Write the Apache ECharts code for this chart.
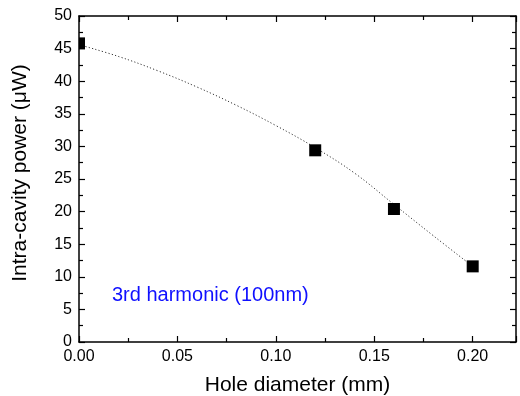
<!DOCTYPE html>
<html><head><meta charset="utf-8">
<script src="https://cdn.jsdelivr.net/npm/echarts@6/dist/echarts.min.js"></script>
<style>html,body{margin:0;padding:0;background:#fff}#c{width:520px;height:396px}</style>
</head><body><div id="c"></div>
<script>
// measured points
const holeDiameter = [0.00, 0.12, 0.16, 0.20];
const power = [45.8, 29.4, 20.4, 11.6];
// dotted fit curve
const curveX = [0.00, 0.02, 0.04, 0.06, 0.08, 0.10, 0.12, 0.14, 0.16, 0.18, 0.20];
const curveY = [45.6, 43.8, 41.6, 39.1, 36.3, 33.2, 29.8, 25.9, 21.1, 16.3, 11.6];
const xTicks = ['0.00', '0.05', '0.10', '0.15', '0.20'];
const annotation = '3rd harmonic (100nm)';
const xTitle = 'Hole diameter (mm)';
const yTitle = 'Intra-cavity power (\u03bcW)';

const FONT = 'Liberation Sans, Arial, sans-serif';
const chart = echarts.init(document.getElementById('c'), null, {renderer: 'canvas'});
const axisLine = {show: true, onZero: false, lineStyle: {color: '#000', width: 1.5}};
const tickStyle = {color: '#000', width: 1.2};
chart.setOption({
  animation: false,
  grid: {left: 79, right: 4, top: 16, bottom: 54, containLabel: false, outerBoundsMode: 'none'},
  xAxis: [{
    type: 'value', min: 0, max: 0.222, interval: 0.05, position: 'bottom',
    axisLine: axisLine,
    axisTick: {show: true, inside: true, length: 6, lineStyle: tickStyle},
    minorTick: {show: true, splitNumber: 2, length: 4, lineStyle: tickStyle},
    splitLine: {show: false},
    axisLabel: {color: '#000', fontSize: 16, fontFamily: FONT, margin: 7, showMaxLabel: false,
      formatter: v => { const i = Math.round(v / 0.05); return xTicks[i] !== undefined ? xTicks[i] : ''; }},
    name: xTitle, nameLocation: 'middle', nameGap: 33,
    nameTextStyle: {color: '#000', fontSize: 21, fontFamily: FONT}
  }, {
    type: 'value', min: 0, max: 0.222, interval: 0.05, position: 'top',
    axisLine: axisLine,
    axisTick: {show: true, inside: true, length: 6, lineStyle: tickStyle},
    minorTick: {show: true, splitNumber: 2, length: 4, lineStyle: tickStyle},
    splitLine: {show: false}, axisLabel: {show: false}
  }],
  yAxis: [{
    type: 'value', min: 0, max: 50, interval: 5, position: 'left',
    axisLine: axisLine,
    axisTick: {show: true, inside: true, length: 6, lineStyle: tickStyle},
    minorTick: {show: true, splitNumber: 2, length: 4, lineStyle: tickStyle},
    splitLine: {show: false},
    axisLabel: {color: '#000', fontSize: 16, fontFamily: FONT, margin: 7},
    name: yTitle, nameLocation: 'middle', nameGap: 48, nameRotate: 90,
    nameTextStyle: {color: '#000', fontSize: 21, fontFamily: FONT, padding: [0, 0, 0, 12]}
  }, {
    type: 'value', min: 0, max: 50, interval: 5, position: 'right',
    axisLine: axisLine,
    axisTick: {show: true, inside: true, length: 6, lineStyle: tickStyle},
    minorTick: {show: true, splitNumber: 2, length: 4, lineStyle: tickStyle},
    splitLine: {show: false}, axisLabel: {show: false}
  }],
  graphic: [{
    type: 'text', left: 112, top: 285, z: 10,
    style: {text: annotation, fill: '#1010ff', font: '20px ' + FONT}
  }],
  series: [{
    type: 'line', xAxisIndex: 0, yAxisIndex: 0,
    data: curveX.map((x, i) => [x, curveY[i]]),
    smooth: 0.4, showSymbol: false, symbol: 'none',
    lineStyle: {color: '#333', width: 1, type: [1.2, 2.2]}, z: 2
  }, {
    type: 'custom', xAxisIndex: 0, yAxisIndex: 0, clip: true, z: 3,
    data: holeDiameter.map((x, i) => [x, power[i]]),
    renderItem: function (params, api) {
      const p = api.coord([api.value(0), api.value(1)]);
      const s = 12;
      return {type: 'rect', shape: {x: p[0] - s / 2, y: p[1] - s / 2, width: s, height: s},
        style: {fill: '#000'}};
    }
  }]
});
</script></body></html>
